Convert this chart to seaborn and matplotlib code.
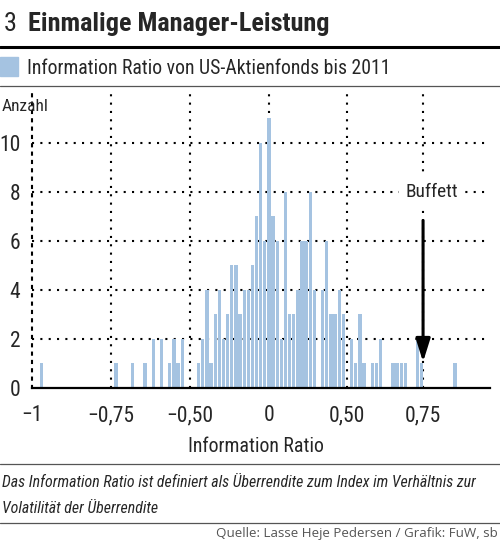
import matplotlib
matplotlib.use("Agg")
import matplotlib.pyplot as plt
import matplotlib.font_manager as fm
import seaborn as sns
from matplotlib.ft2font import FT2Font
from matplotlib.lines import Line2D
from matplotlib.patches import Rectangle

# data: histogram bins (bin number from the left) and fund counts
bin_index = [0, 18, 22, 25, 27, 29, 31, 32, 33, 34,
             38, 39, 40, 41, 42, 43, 44, 45, 46, 47, 48, 49, 50, 51, 52, 53, 54, 55, 56, 57,
             58, 59, 60, 61, 62, 63, 64, 65, 66, 68, 69, 70, 71, 72, 73,
             75, 76, 77, 78, 80, 81, 82, 85, 86, 87, 88, 91, 92, 100]
counts = [1, 1, 1, 1, 2, 2, 1, 2, 1, 2,
          1, 2, 4, 1, 3, 4, 2, 3, 5, 5, 3, 4, 4, 5, 7, 10, 6, 11, 7, 6,
          2, 8, 3, 3, 4, 6, 6, 8, 4, 4, 6, 3, 3, 4, 3,
          2, 1, 3, 1, 1, 1, 2, 1, 1, 1, 1, 2, 1, 1]
tick_values = ["1", "0,75", "0,50", "0", "0,50", "0,75"]
tick_negative = [True, True, True, False, False, False]
tick_bins = [-2.35, 16.7, 35.9, 55.0, 73.8, 92.3]
y_ticks = [0, 2, 4, 6, 8, 10]
buffett_bin = 92.3

sns.set_style("white")

# --- fonts: a condensed face close to the original newspaper font
entries = fm.fontManager.ttflist


def wnum(w):
    return w if isinstance(w, int) else fm.weight_dict.get(w, 400)


def has_bold(name):
    return any(e.name == name and e.style == "normal" and wnum(e.weight) >= 600 for e in entries)


FAM = "DejaVu Sans"
for p in ["Roboto Condensed", "Fira Sans Condensed", "PT Sans Narrow", "Asap Condensed",
          "Barlow Semi Condensed", "Archivo Narrow"]:
    if has_bold(p):
        FAM = p
        break


def face(fam, style="normal", weight=400):
    pool = [e for e in entries if e.name == fam] or [e for e in entries if e.name == "DejaVu Sans"]

    def score(e):
        if e.style == style:
            s = 0
        elif style != "normal" and e.style in ("italic", "oblique"):
            s = 0.5
        else:
            s = 10
        return s * 1000 + abs(wnum(e.weight) - weight)
    return min(pool, key=score).fname


REG = face(FAM)
BOLD = face(FAM, weight=700)
ITAL = face(FAM, style="italic")
SRC = face("Open Sans") if any(e.name == "Open Sans" for e in entries) else face("DejaVu Sans")

minus = "\u2212" if FT2Font(REG).get_char_index(0x2212) else "\u2013"
tick_labels = [(minus if neg else "") + v for v, neg in zip(tick_values, tick_negative)]


def fp(path, size):
    return fm.FontProperties(fname=path, size=size)


BLUE = "#a5c3e1"
W, H = 500, 545

fig = plt.figure(figsize=(W / 100, H / 100), dpi=100)
renderer = fig.canvas.get_renderer()


def size_for(text, path, width_px):
    t = fig.text(0, 0, text, fontproperties=fp(path, 16))
    w = t.get_window_extent(renderer).width
    t.remove()
    return 16 * width_px / w


ax = fig.add_axes([32 / W, 1 - 388 / H, 458 / W, 299 / H])

sns.barplot(x=bin_index, y=counts, native_scale=True, width=0.8,
            color=BLUE, saturation=1, errorbar=None, ax=ax, zorder=3,
            linewidth=0, edgecolor="none")

tick_size = size_for(minus + "0,75", REG, 47)
ax.set_xlim(-2.35, 108.5)
ax.set_ylim(0, 12.2)
ax.set_xticks(tick_bins)
ax.set_xticklabels(tick_labels)
ax.set_yticks(y_ticks)
ax.set_yticklabels([str(v) for v in y_ticks])
for lab in ax.get_xticklabels() + ax.get_yticklabels():
    lab.set_fontproperties(fp(REG, tick_size))
ax.tick_params(axis="both", length=0)
ax.tick_params(axis="x", pad=12.5)
ax.tick_params(axis="y", pad=8.5)
ax.set_xlabel("")
ax.set_ylabel("")

dots = (0, (1, 3))
for v in y_ticks[1:]:
    ax.axhline(v, color="black", lw=1.5, ls=dots, zorder=1)
for b in tick_bins[1:]:
    ax.axvline(b, color="black", lw=1.5, ls=dots, zorder=1)

for side in ["top", "right"]:
    ax.spines[side].set_visible(False)
ax.spines["left"].set_linestyle(dots)
ax.spines["left"].set_linewidth(1.5)
ax.spines["left"].set_color("black")
ax.spines["bottom"].set_color("black")
ax.spines["bottom"].set_linewidth(1.6)
ax.spines["bottom"].set_zorder(5)

# Buffett marker
ax.text(buffett_bin + 2.0, 8.0, "Buffett", fontproperties=fp(REG, size_for("Buffett", REG, 53)),
        ha="center", va="center",
        bbox=dict(facecolor="white", edgecolor="none", pad=4), zorder=4)
ax.annotate("", xy=(buffett_bin, 0.95), xytext=(buffett_bin, 6.95),
            arrowprops=dict(arrowstyle="-|>,head_length=0.7,head_width=0.22",
                            color="black", lw=2.2, mutation_scale=20),
            zorder=6)

# header
title_size = size_for("Einmalige Manager-Leistung", BOLD, 302)
fig.text(4 / W, 1 - 31 / H, "3", fontproperties=fp(REG, title_size), va="baseline", ha="left")
fig.text(28 / W, 1 - 31 / H, "Einmalige Manager-Leistung", fontproperties=fp(BOLD, title_size),
         va="baseline", ha="left")
fig.add_artist(Line2D([0, 1], [1 - 46.5 / H] * 2, color="black", lw=2.2,
                      transform=fig.transFigure))
fig.add_artist(Rectangle((0, 1 - 76 / H), 18 / W, 19 / H, color=BLUE,
                         transform=fig.transFigure))
legend_text = "Information Ratio von US-Aktienfonds bis 2011"
fig.text(27 / W, 1 - 74 / H, legend_text, fontproperties=fp(REG, size_for(legend_text, REG, 365)),
         va="baseline", ha="left")
fig.add_artist(Line2D([0, 1], [1 - 86 / H] * 2, color="#555555", lw=0.9,
                      transform=fig.transFigure))
fig.text(2 / W, 1 - 111 / H, "Anzahl", fontproperties=fp(REG, size_for("Anzahl", REG, 47)),
         va="baseline", ha="left")

# axis title
fig.text(256 / W, 1 - 452 / H, "Information Ratio",
         fontproperties=fp(REG, size_for("Information Ratio", REG, 137)),
         va="baseline", ha="center")

# footer
note1 = "Das Information Ratio ist definiert als \u00dcberrendite zum Index im Verh\u00e4ltnis zur"
note2 = "Volatilit\u00e4t der \u00dcberrendite"
note_size = size_for(note1, ITAL, 478)
fig.add_artist(Line2D([0, 1], [1 - 464 / H] * 2, color="#555555", lw=0.9,
                      transform=fig.transFigure))
fig.text(2 / W, 1 - 487 / H, note1, fontproperties=fp(ITAL, note_size), va="baseline", ha="left")
fig.text(2 / W, 1 - 513 / H, note2, fontproperties=fp(ITAL, note_size), va="baseline", ha="left")
fig.add_artist(Line2D([0, 1], [1 - 523 / H] * 2, color="#555555", lw=0.9,
                      transform=fig.transFigure))
source = "Quelle: Lasse Heje Pedersen / Grafik: FuW, sb"
fig.text(498 / W, 1 - 537 / H, source, fontproperties=fp(SRC, size_for(source, SRC, 281)),
         color="#555555", va="baseline", ha="right")

fig.savefig("out.png", dpi=100)
